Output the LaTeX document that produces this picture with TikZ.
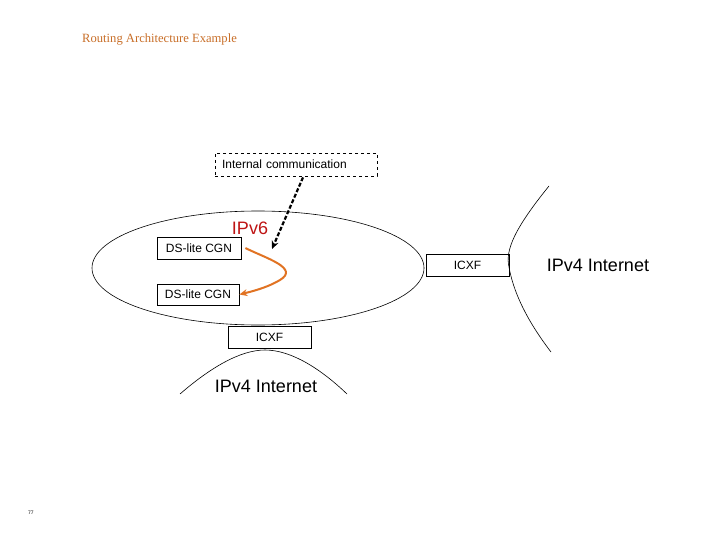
\documentclass[tikz,border=0pt]{standalone}
\usepackage{fontspec}
\setmainfont{Liberation Sans}
\newfontfamily\titlefont{Liberation Serif}
\usetikzlibrary{shapes.geometric,arrows.meta}
\definecolor{titleor}{RGB}{200,110,40}
\definecolor{arrowor}{RGB}{225,115,35}
\definecolor{ipred}{RGB}{190,20,20}
\tikzset{
  box/.style={draw,line width=0.8pt,inner sep=0pt,font=\fontsize{12}{12}\selectfont,anchor=center},
  bigtext/.style={font=\fontsize{18}{18}\selectfont},
  thin curve/.style={line width=0.6pt},
}
\begin{document}
\begin{tikzpicture}[x=1pt,y=-1pt]
\useasboundingbox (0,0) rectangle (720,540);
% title
\node[anchor=west,text=titleor,font=\titlefont\fontsize{12.6}{13}\selectfont,inner sep=0pt] (title) at (82,39) {Routing Architecture Example};
% ellipse
\node[draw,thin curve,ellipse,minimum width=332,minimum height=114,inner sep=0pt] (ipv6net) at (258,268) {};
% internal comm
\node[box,dashed,text width=148,inner xsep=7pt,align=left,minimum height=23] (intcomm) at (296,164.5) {Internal communication};
% IPv6 label
\node[bigtext,text=ipred] (ipv6) at (250,228) {IPv6};
% DS-lite boxes
\node[box,minimum width=84,minimum height=22] (cgn1) at (199,248) {DS-lite CGN};
\node[box,minimum width=82,minimum height=21] (cgn2) at (198,294.5) {DS-lite CGN};
% ICXF right
\node[box,minimum width=83,minimum height=22] (icxfr) at (467.5,265) {ICXF};
% ICXF bottom
\node[box,minimum width=83,minimum height=22] (icxfb) at (269.5,337) {ICXF};
% right internet curve
\draw[thin curve] (549,186) .. controls (515,228) and (505,250) .. (509,267) .. controls (513,290) and (525,318) .. (551,352);
\node[bigtext] (ipv4r) at (598,265) {IPv4 Internet};
% bottom internet curve
\draw[thin curve] (180,394) .. controls (210,368) and (240,350) .. (265,350) .. controls (292,350) and (322,370) .. (347,394);
\node[bigtext] (ipv4b) at (266,386) {IPv4 Internet};
% arrows
\coordinate (arrtip) at (272,249);
\draw[line width=2.2pt,dash pattern=on 4pt off 2pt,-{Stealth[length=8pt,width=7pt]}] (intcomm.south) ++(7,1) -- (arrtip);
\draw[line width=2pt,arrowor,-{Stealth[length=8pt,width=7pt]}] (cgn1.east) ++(4,0) .. controls (265,258) and (300,268) .. (280,280) .. controls (270,286) and (258,290) .. (cgn2.east);
% page number
\node[font=\fontsize{5}{5}\selectfont] (pagenum) at (31,513) {77};
\end{tikzpicture}
\end{document}
